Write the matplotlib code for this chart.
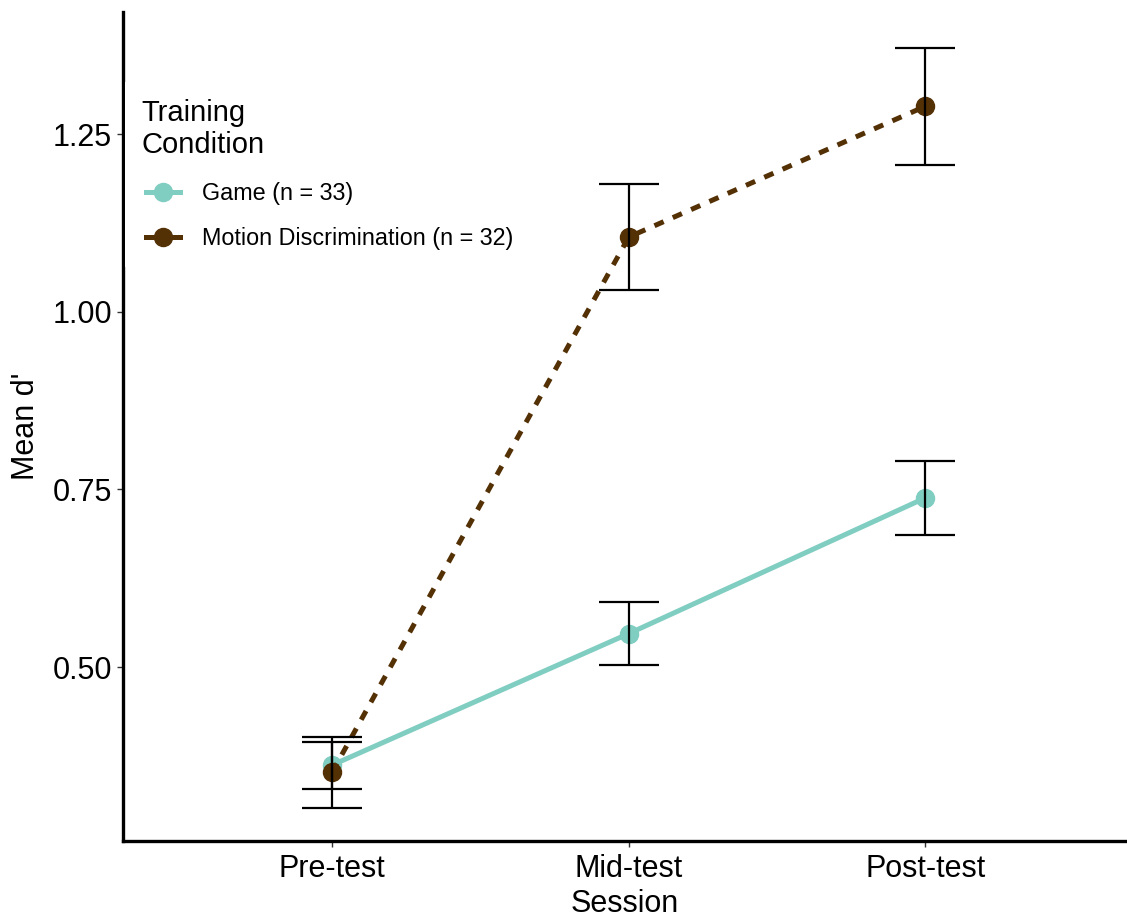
import matplotlib
matplotlib.use('Agg')
import matplotlib.pyplot as plt
from matplotlib.lines import Line2D
from matplotlib.legend_handler import HandlerLine2D
import numpy as np

plt.rcParams['font.family'] = ['Liberation Sans', 'DejaVu Sans']

# Session means of d' with +/- 1 SE per training group
sessions = ['Pre-test', 'Mid-test', 'Post-test']
game_mean = [0.362, 0.547, 0.738]
game_se = [0.033, 0.044, 0.052]
motion_mean = [0.352, 1.105, 1.289]
motion_se = [0.050, 0.075, 0.082]
group_labels = ['Game (n = 33)', 'Motion Discrimination (n = 32)']
group_colors = ['#80CDC1', '#543005']

fig = plt.figure(figsize=(11.27, 9.21), dpi=100)
ax = fig.add_axes([123 / 1127, 80 / 921, 1004 / 1127, 829 / 921])

x = np.arange(1, len(sessions) + 1)

ax.plot(x, game_mean, color=group_colors[0], lw=3.6, marker='o', ms=13,
        solid_capstyle='butt', zorder=3)
ax.plot(x, motion_mean, color=group_colors[1], lw=3.6, marker='o', ms=13,
        linestyle=(0, (2.0, 2.0)), zorder=3)

# error bars sit on top of the lines and points
for means, ses in [(game_mean, game_se), (motion_mean, motion_se)]:
    ax.errorbar(x, means, yerr=ses, fmt='none', ecolor='black', elinewidth=1.6,
                capsize=21.5, capthick=1.6, zorder=4)

ax.set_xlim(0.295, 3.68)
ax.set_ylim(0.2552, 1.4217)
ax.set_xticks(x)
ax.set_xticklabels(sessions)
ax.set_yticks([0.50, 0.75, 1.00, 1.25])
ax.set_yticklabels(['0.50', '0.75', '1.00', '1.25'])
ax.tick_params(axis='both', labelsize=22, length=4, width=1, color='#333333',
               labelcolor='black')
ax.tick_params(axis='x', pad=5)
ax.tick_params(axis='y', pad=4)
ax.set_xlabel('Session', fontsize=22, labelpad=4)
ax.set_ylabel("Mean d'", fontsize=22, labelpad=8)

for side in ['top', 'right']:
    ax.spines[side].set_visible(False)
for side in ['left', 'bottom']:
    ax.spines[side].set_linewidth(2.4)
    ax.spines[side].set_color('black')

# legend keys drawn solid, nudged right of the title
handles = [Line2D([], [], color=c, lw=3.6, marker='o', ms=13) for c in group_colors]
leg = ax.legend(handles, group_labels, title='Training\nCondition', loc='upper left',
                bbox_to_anchor=(0.002, 0.915), fontsize=16.8, title_fontsize=21,
                alignment='left', frameon=True, facecolor='white', edgecolor='none',
                framealpha=1, fancybox=False, handlelength=1.67, handletextpad=0.94,
                labelspacing=0.97, borderpad=0.7, borderaxespad=0,
                handler_map={Line2D: HandlerLine2D(xpad=0.21)})

fig.savefig('out.png', dpi=100, facecolor='white')
